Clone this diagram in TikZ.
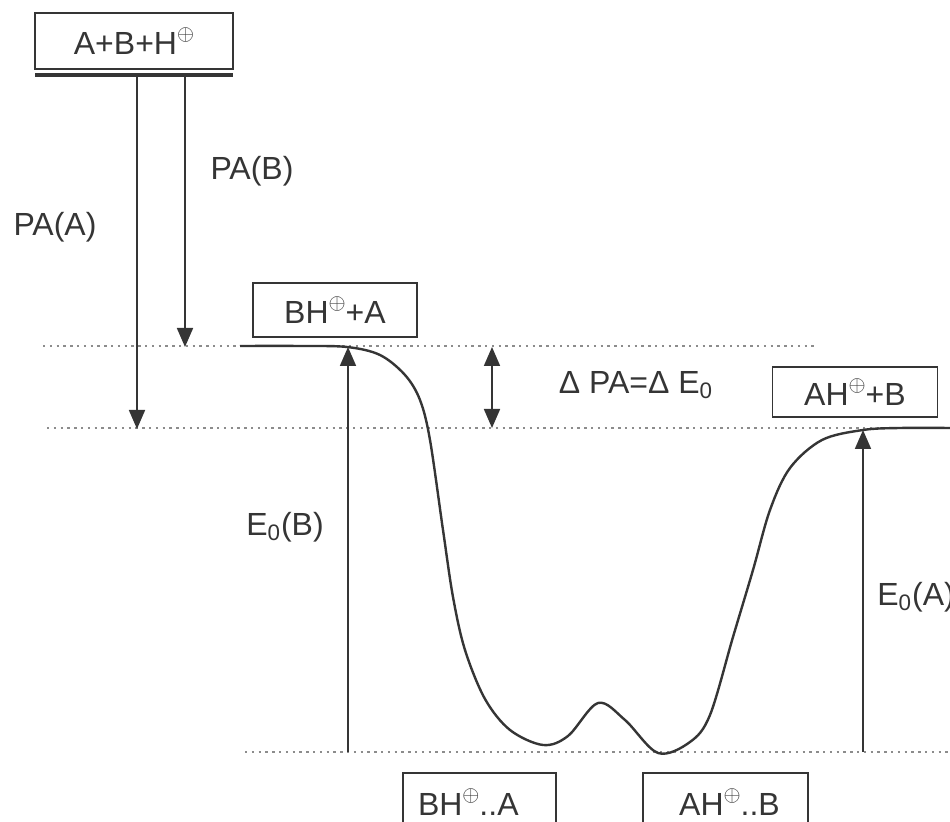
\documentclass[tikz,border=0pt]{standalone}
\usepackage{fontspec}
\setmainfont{Liberation Sans}
\usetikzlibrary{arrows.meta}
\definecolor{ink}{HTML}{353535}
\definecolor{lvl}{HTML}{8C8C8C}
\tikzset{
  box/.style={draw=ink, line width=0.75pt, fill=white, inner sep=0pt, text=ink, font=\fontsize{16}{18}\selectfont},
  lbl/.style={text=ink, inner sep=0pt, font=\fontsize{16}{18}\selectfont},
  level/.style={draw=lvl, line width=0.6pt, dash pattern=on 1.2pt off 2.2pt},
  harrow/.style={draw=ink, line width=0.9pt, -{Triangle[width=8pt,length=9.5pt]}},
  curve/.style={draw=ink, line width=1.2pt, line join=round}
}
\newcommand{\plus}{\raisebox{0.8ex}{\fontsize{11}{11}\selectfont$\oplus$}}
\begin{document}
\begin{tikzpicture}[x=0.5pt,y=-0.5pt]
\useasboundingbox (0,0) rectangle (950,822);
\clip (0,0) rectangle (950,822);
\fill[white] (0,0) rectangle (950,822);
% levels
\draw[level] (43,346) -- (815,346);
\draw[level] (47,428) -- (950,428);
\draw[level] (245,752) -- (950,752);
% top box and bar
\node[box, minimum width=99pt, minimum height=28pt] (top) at (134,41) {A+B+H\plus};
\coordinate (barL) at (35,75);
\coordinate (barR) at (233,75);
\draw[ink, line width=2pt] (barL) -- (barR);
\coordinate (pa0) at (137,76);
\coordinate (pb0) at (185,76);
\coordinate (pa1) at (137,429);
\coordinate (pb1) at (185,347);
\draw[harrow] (pa0) -- (pa1);
\draw[harrow] (pb0) -- (pb1);
\node[lbl] (lpb) at (252,171) {PA(B)};
\node[lbl] (lpa) at (55,227) {PA(A)};
% boxes
\node[box, minimum width=82pt, minimum height=27pt] (bha) at (335,310) {BH\plus+A};
\node[box, minimum width=82.5pt, minimum height=25pt] (ahb) at (855,392) {AH\plus+B};
\node[box, minimum width=76.5pt, minimum height=29pt, inner xsep=7.5pt, text width=61.5pt, align=left] (bhda) at (479.5,802) {BH\plus..A};
\node[box, minimum width=82.5pt, minimum height=29pt] (ahdb) at (725.5,802) {\hspace{4pt}AH\plus..B};
% curve
\draw[curve] plot[smooth, tension=0.55] coordinates {
 (240,346) (300,346) (347,347) (380,355) (405,375) (420,400) (430,440)
 (443,530) (453,597) (465,650) (485,699) (510,730) (543,745) (568,736)
 (598,703) (625,720) (658,753) (690,742) (710,715) (733,637) (753,570)
 (770,510) (790,468) (822,440) (863,430) (900,428) (950,428)};
% vertical arrows
\coordinate (eb0) at (348,752);
\coordinate (eb1) at (348,347);
\coordinate (ea0) at (863,752);
\coordinate (ea1) at (863,430);
\coordinate (d1) at (492,347);
\coordinate (d2) at (492,428);
\draw[harrow] (eb0) -- (eb1);
\draw[harrow] (ea0) -- (ea1);
\draw[harrow, {Triangle[width=8pt,length=9.5pt]}-{Triangle[width=8pt,length=9.5pt]}] (d1) -- (d2);
\node[lbl] (leb) at (285,527) {E\textsubscript{0}(B)};
\node[lbl, anchor=west] (lea) at (877,597) {E\textsubscript{0}(A)};
\node[lbl] (ldpa) at (636,385) {Δ PA=Δ E\textsubscript{0}};
\end{tikzpicture}
\end{document}
